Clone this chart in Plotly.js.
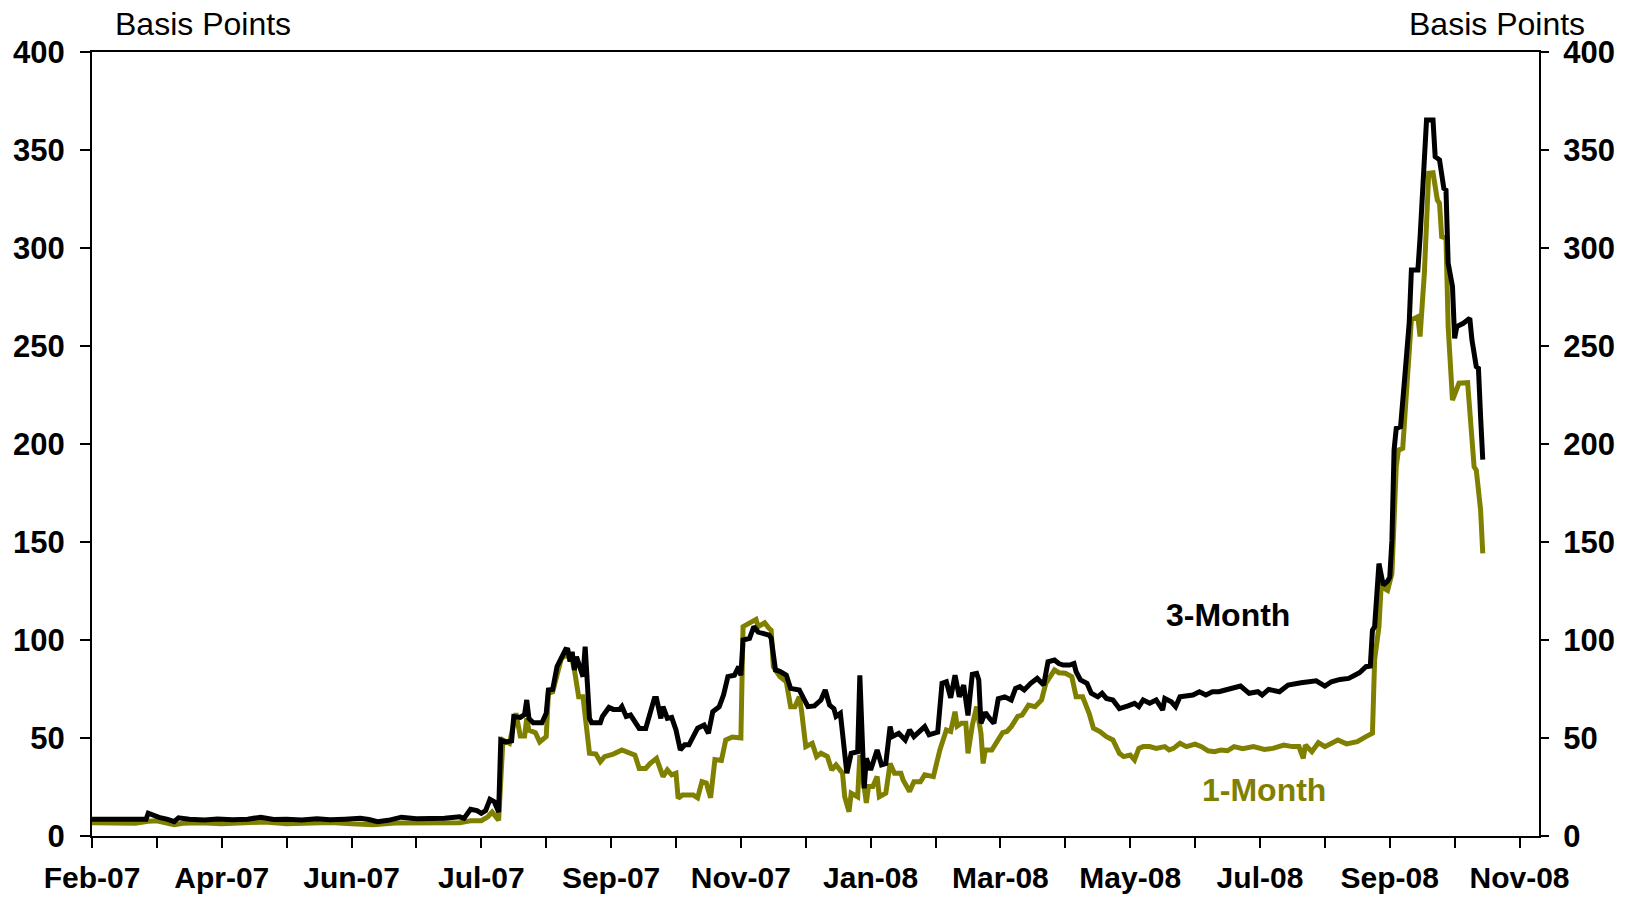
<!DOCTYPE html>
<html>
<head>
<meta charset="utf-8">
<script src="https://cdn.plot.ly/plotly-3.0.1.min.js"></script>
<style>
html,body{margin:0;padding:0;background:#fff;}
#chart{width:1631px;height:899px;}
</style>
</head>
<body>
<div id="chart"></div>
<script>
// ---- data ----
const dates1M = ['2007-02-01','2007-02-11','2007-02-21','2007-02-27','2007-03-03','2007-03-08','2007-03-11','2007-03-15','2007-03-23','2007-04-02','2007-04-12','2007-04-22','2007-05-02','2007-05-12','2007-05-22','2007-06-01','2007-06-11','2007-06-21','2007-07-01','2007-07-11','2007-07-16','2007-07-21','2007-07-26','2007-07-31','2007-08-03','2007-08-05','2007-08-08','2007-08-10','2007-08-13','2007-08-16','2007-08-18','2007-08-20','2007-08-21','2007-08-22','2007-08-25','2007-08-27','2007-08-30','2007-08-31','2007-09-02','2007-09-05','2007-09-06','2007-09-08','2007-09-11','2007-09-12','2007-09-14','2007-09-16','2007-09-17','2007-09-19','2007-09-22','2007-09-24','2007-09-26','2007-09-30','2007-10-04','2007-10-08','2007-10-10','2007-10-12','2007-10-15','2007-10-17','2007-10-20','2007-10-23','2007-10-25','2007-10-27','2007-10-29','2007-10-30','2007-11-01','2007-11-06','2007-11-08','2007-11-10','2007-11-12','2007-11-14','2007-11-16','2007-11-19','2007-11-21','2007-11-24','2007-11-28','2007-11-29','2007-12-02','2007-12-05','2007-12-06','2007-12-09','2007-12-11','2007-12-12','2007-12-13','2007-12-16','2007-12-19','2007-12-21','2007-12-23','2007-12-25','2007-12-26','2007-12-28','2007-12-31','2008-01-02','2008-01-04','2008-01-07','2008-01-09','2008-01-11','2008-01-14','2008-01-15','2008-01-17','2008-01-18','2008-01-21','2008-01-22','2008-01-25','2008-01-26','2008-01-28','2008-01-30','2008-01-31','2008-02-03','2008-02-05','2008-02-07','2008-02-10','2008-02-11','2008-02-14','2008-02-16','2008-02-19','2008-02-21','2008-02-25','2008-02-28','2008-03-02','2008-03-04','2008-03-06','2008-03-07','2008-03-09','2008-03-11','2008-03-12','2008-03-14','2008-03-16','2008-03-17','2008-03-18','2008-03-19','2008-03-20','2008-03-23','2008-03-25','2008-03-28','2008-03-30','2008-04-01','2008-04-04','2008-04-06','2008-04-09','2008-04-12','2008-04-15','2008-04-17','2008-04-21','2008-04-23','2008-04-26','2008-04-29','2008-05-01','2008-05-04','2008-05-07','2008-05-09','2008-05-12','2008-05-15','2008-05-18','2008-05-21','2008-05-23','2008-05-26','2008-05-28','2008-05-30','2008-06-01','2008-06-04','2008-06-07','2008-06-11','2008-06-13','2008-06-15','2008-06-18','2008-06-21','2008-06-25','2008-06-28','2008-07-01','2008-07-04','2008-07-07','2008-07-10','2008-07-13','2008-07-17','2008-07-22','2008-07-27','2008-07-31','2008-08-05','2008-08-09','2008-08-12','2008-08-14','2008-08-15','2008-08-18','2008-08-21','2008-08-24','2008-08-30','2008-09-03','2008-09-08','2008-09-12','2008-09-15','2008-09-16','2008-09-18','2008-09-19','2008-09-22','2008-09-24','2008-09-26','2008-09-27','2008-09-29','2008-10-01','2008-10-03','2008-10-06','2008-10-07','2008-10-09','2008-10-11','2008-10-13','2008-10-14','2008-10-15','2008-10-16','2008-10-17','2008-10-19','2008-10-20','2008-10-22','2008-10-23','2008-10-25','2008-10-29','2008-10-30','2008-11-01','2008-11-02','2008-11-04','2008-11-05'];
const values1M = [6.8,6.8,6.5,7.5,7.8,6.5,5.8,6.5,6.8,6.2,6.8,7.2,6.3,6.5,6.9,6.2,5.8,6.6,6.5,7.0,6.8,6.8,7.8,7.8,9.8,12.2,8,49,47.3,62.6,51,51,60,54,52.7,48,50.7,72.8,73.6,88,90.6,92.3,89.8,85,71,71,62.6,42.2,41.8,37.9,40.5,41.8,43.9,41.8,41.3,34.5,34.5,37,39.6,30.3,33.7,31.2,32,19.2,20.9,20.9,19.5,27.7,27,19.5,39,38.5,49,50.5,50,106.8,108.5,110.5,106.8,108.8,106,105,86.4,81.3,78.7,66,66,71,64.3,45.6,47.3,40.5,42.2,40.5,33.7,36.3,32,20,12.4,21.8,20,41.3,16.9,25.2,25.2,30.3,20,21.8,37,32,32,28.6,22.7,27.7,27.7,31.2,30.3,43.9,54.1,53.3,63.4,56,57.5,57.5,42.2,56.5,66,58.3,52.4,37,43.9,43.9,47.3,52.7,53.3,55.8,61,61.7,66.8,66,69.4,77.9,84.7,83.3,83,81.3,71,71,62.6,55,53.3,50.7,49,42.2,40.5,41.3,38.8,44.7,45.6,45.6,44.7,45.6,43.9,44.7,47.3,45.6,46.9,45.6,43.5,43,43.9,43.5,45.6,44.5,45.6,44.2,44.7,46.4,45.6,45.6,39.6,46.4,43,47.6,45.6,49,47,48.1,50.7,52.4,89.8,106.8,127.2,125.3,133.8,188.4,196.9,197.8,231,263.3,264.9,254.8,287.1,338.1,338.4,333,324.5,322.8,305.8,305,259.9,222.4,225.9,231,231.3,215.6,188.4,186.7,166.3,144.2];

const dates3M = ['2007-02-01','2007-02-11','2007-02-21','2007-02-26','2007-02-27','2007-03-01','2007-03-04','2007-03-08','2007-03-11','2007-03-13','2007-03-18','2007-03-25','2007-03-31','2007-04-07','2007-04-14','2007-04-20','2007-04-26','2007-05-02','2007-05-09','2007-05-16','2007-05-22','2007-05-29','2007-06-05','2007-06-09','2007-06-13','2007-06-18','2007-06-24','2007-07-01','2007-07-08','2007-07-14','2007-07-21','2007-07-23','2007-07-26','2007-07-29','2007-07-31','2007-08-02','2007-08-04','2007-08-06','2007-08-08','2007-08-09','2007-08-11','2007-08-14','2007-08-15','2007-08-18','2007-08-20','2007-08-21','2007-08-22','2007-08-24','2007-08-28','2007-08-30','2007-08-31','2007-09-02','2007-09-04','2007-09-06','2007-09-08','2007-09-09','2007-09-10','2007-09-11','2007-09-12','2007-09-13','2007-09-15','2007-09-16','2007-09-17','2007-09-19','2007-09-20','2007-09-24','2007-09-25','2007-09-28','2007-09-30','2007-10-03','2007-10-04','2007-10-06','2007-10-08','2007-10-10','2007-10-12','2007-10-15','2007-10-17','2007-10-19','2007-10-20','2007-10-22','2007-10-23','2007-10-25','2007-10-27','2007-10-29','2007-10-31','2007-11-02','2007-11-04','2007-11-08','2007-11-11','2007-11-13','2007-11-15','2007-11-17','2007-11-18','2007-11-20','2007-11-22','2007-11-25','2007-11-27','2007-11-28','2007-11-29','2007-12-02','2007-12-04','2007-12-06','2007-12-09','2007-12-11','2007-12-12','2007-12-14','2007-12-16','2007-12-19','2007-12-21','2007-12-25','2007-12-27','2007-12-29','2008-01-01','2008-01-04','2008-01-06','2008-01-08','2008-01-10','2008-01-11','2008-01-13','2008-01-14','2008-01-16','2008-01-18','2008-01-21','2008-01-22','2008-01-24','2008-01-25','2008-01-27','2008-01-30','2008-02-01','2008-02-03','2008-02-05','2008-02-06','2008-02-09','2008-02-12','2008-02-14','2008-02-16','2008-02-19','2008-02-21','2008-02-23','2008-02-26','2008-02-27','2008-02-29','2008-03-02','2008-03-04','2008-03-06','2008-03-08','2008-03-10','2008-03-12','2008-03-14','2008-03-16','2008-03-17','2008-03-18','2008-03-20','2008-03-22','2008-03-24','2008-03-26','2008-03-29','2008-04-01','2008-04-03','2008-04-05','2008-04-07','2008-04-10','2008-04-13','2008-04-16','2008-04-18','2008-04-21','2008-04-23','2008-04-25','2008-04-28','2008-04-30','2008-05-01','2008-05-03','2008-05-06','2008-05-08','2008-05-11','2008-05-13','2008-05-15','2008-05-18','2008-05-21','2008-05-25','2008-05-28','2008-05-30','2008-06-01','2008-06-04','2008-06-07','2008-06-10','2008-06-11','2008-06-14','2008-06-16','2008-06-18','2008-06-21','2008-06-24','2008-06-27','2008-06-30','2008-07-03','2008-07-06','2008-07-09','2008-07-13','2008-07-16','2008-07-20','2008-07-24','2008-07-26','2008-07-29','2008-08-03','2008-08-07','2008-08-13','2008-08-17','2008-08-20','2008-08-24','2008-08-27','2008-08-31','2008-09-04','2008-09-07','2008-09-09','2008-09-12','2008-09-14','2008-09-15','2008-09-16','2008-09-18','2008-09-20','2008-09-22','2008-09-23','2008-09-24','2008-09-25','2008-09-26','2008-09-28','2008-09-30','2008-10-01','2008-10-02','2008-10-03','2008-10-06','2008-10-07','2008-10-09','2008-10-10','2008-10-13','2008-10-14','2008-10-16','2008-10-18','2008-10-19','2008-10-20','2008-10-22','2008-10-23','2008-10-24','2008-10-27','2008-10-30','2008-10-31','2008-11-02','2008-11-03','2008-11-04','2008-11-05'];
const values3M = [8.5,8.5,8.4,8.5,11.6,10.5,9.5,8.5,7.3,9.3,8.5,8.2,8.7,8.3,8.6,9.6,8.4,8.5,8.2,8.8,8.3,8.6,9.0,8.4,7.3,8.0,9.6,8.8,8.6,9.0,9.8,9.0,13.6,13.0,11.6,13.0,18.7,17.5,12.2,49,48,48.5,60.9,60.5,62,69.4,60,57.8,57.8,62.6,74.5,74.8,86.4,91,95.2,95,89,94,84.7,91.5,84.7,81.3,96.6,60,57.8,57.8,61,65.6,64.6,64.6,66,61,61.7,58,54.9,54.9,62.6,70.2,70.2,60,66,60,60.5,54.1,43.9,46.5,46.5,55,56.6,52.4,63.4,65,66,72,81.3,82,86.4,82,100,100.8,106.8,104,103.3,102.5,101,84.7,84,82,75.3,74.5,70.2,66,66.4,69.4,74.5,66.8,65,61,62.6,50.7,32,42.2,43,82,24.3,39.6,33.7,43.9,36.3,37,55.8,50.7,52.4,49,54.1,50.7,53.3,55.8,51.6,52.4,53,77.9,78.7,70.5,82,71,77,61.5,82.5,83,79.6,57.5,63,60,57.5,70,71,69.4,75.3,76.2,74.5,77.9,80.4,77,88.9,89.8,88,87.2,87.2,88,83.8,79.6,77.9,72.8,71,72.8,70.2,69.4,65,66.4,67.7,66,69.4,67.7,69.4,64.3,70.2,68.5,66,71,71.4,71.9,73.6,72,73.6,73.6,74.5,75.3,76.5,72.8,73.6,71.9,74.8,73.6,77,78.2,78.7,79.2,76.5,78.7,79.9,80.4,82.1,83.3,86.4,86.7,105,106.8,139,128,130,132,150.8,197,208,208.8,235,248,262,288.8,288.8,305,353.4,365.3,365.3,346.6,345,330.4,329.6,292.2,280.3,253.9,259.9,261.6,264.1,253.1,239.5,238.6,214,192];

const tickDates = ['2007-02-01','2007-04-02','2007-06-01','2007-07-31','2007-09-29','2007-11-28','2008-01-27','2008-03-27','2008-05-26','2008-07-25','2008-09-23','2008-11-22'];
const tickLabels = ['Feb-07','Apr-07','Jun-07','Jul-07','Sep-07','Nov-07','Jan-08','Mar-08','May-08','Jul-08','Sep-08','Nov-08'];
const seriesNames = ['1-Month','3-Month'];
const yAxisTitle = 'Basis Points';

// minor ticks halfway between the labelled ticks
const minorDates = [];
for (let i = 0; i < tickDates.length - 1; i++) {
  const a = Date.parse(tickDates[i] + 'T00:00:00Z'), b = Date.parse(tickDates[i + 1] + 'T00:00:00Z');
  minorDates.push(new Date((a + b) / 2).toISOString().slice(0, 10));
}

const OLIVE = '#808000';
const FONT = 'Liberation Sans, Arial, Helvetica, sans-serif';

const traces = [
  {x: dates1M, y: values1M, name: seriesNames[0], type: 'scatter', mode: 'lines',
   line: {color: OLIVE, width: 5}, yaxis: 'y', hoverinfo: 'x+y'},
  {x: dates3M, y: values3M, name: seriesNames[1], type: 'scatter', mode: 'lines',
   line: {color: '#000000', width: 5}, yaxis: 'y2', hoverinfo: 'x+y'}
];

const yCommon = {
  range: [0, 400], tickmode: 'linear', tick0: 0, dtick: 50,
  ticks: 'outside', ticklen: 10, tickwidth: 2, tickcolor: '#000',
  showline: true, linewidth: 2, linecolor: '#000',
  showgrid: false, zeroline: false, fixedrange: true,
  tickfont: {family: FONT, size: 31, color: '#000', weight: 'bold'}
};

const layout = {
  width: 1631, height: 899,
  margin: {l: 92, r: 92, t: 52, b: 63, pad: 0},
  paper_bgcolor: '#fff', plot_bgcolor: '#fff',
  showlegend: false,
  font: {family: FONT, color: '#000'},
  xaxis: {
    type: 'date', range: ['2007-02-01', '2008-12-01'],
    tickmode: 'array', tickvals: tickDates, ticktext: tickLabels,
    ticks: 'outside', ticklen: 10, tickwidth: 2, tickcolor: '#000',
    ticklabelstandoff: 4,
    minor: {tickmode: 'array', tickvals: minorDates, ticks: 'outside', ticklen: 10, tickwidth: 2, tickcolor: '#000', showgrid: false},
    showline: true, linewidth: 2, linecolor: '#000', mirror: true,
    showgrid: false, zeroline: false, fixedrange: true,
    tickfont: {family: FONT, size: 30, color: '#000', weight: 'bold'}
  },
  yaxis: Object.assign({}, yCommon, {side: 'left', ticklabelstandoff: 9}),
  yaxis2: Object.assign({}, yCommon, {side: 'right', overlaying: 'y', ticklen: 8, ticklabelstandoff: 8}),
  annotations: [
    {text: yAxisTitle, xref: 'paper', yref: 'paper', x: 0.0767, y: 1.0357, xanchor: 'center', yanchor: 'middle', showarrow: false,
     font: {family: FONT, size: 32, color: '#000'}},
    {text: yAxisTitle, xref: 'paper', yref: 'paper', x: 0.9713, y: 1.0357, xanchor: 'center', yanchor: 'middle', showarrow: false,
     font: {family: FONT, size: 32, color: '#000'}},
    {text: seriesNames[1], xref: 'x', yref: 'y', x: '2008-07-10', y: 112.8, xanchor: 'center', yanchor: 'middle', showarrow: false,
     font: {family: FONT, size: 32, color: '#000', weight: 'bold'}},
    {text: seriesNames[0], xref: 'x', yref: 'y', x: '2008-07-27', y: 23.5, xanchor: 'center', yanchor: 'middle', showarrow: false,
     font: {family: FONT, size: 32, color: OLIVE, weight: 'bold'}}
  ]
};

Plotly.newPlot('chart', traces, layout, {displayModeBar: false, staticPlot: true});
</script>
</body>
</html>
